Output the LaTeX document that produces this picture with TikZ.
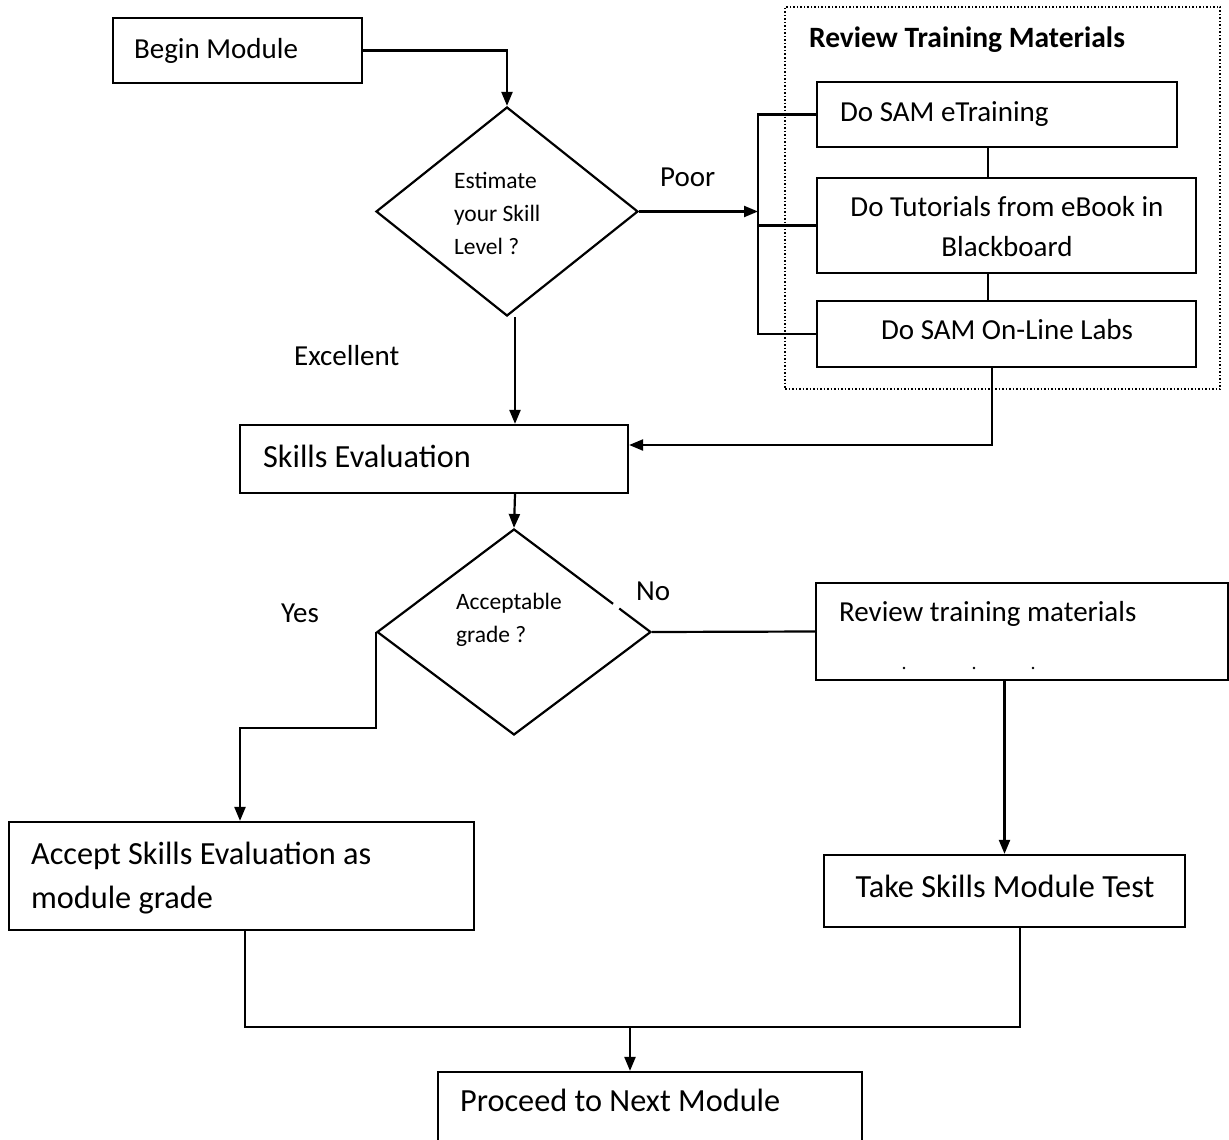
\documentclass[tikz,border=0pt]{standalone}
\usepackage{fontspec}
\setmainfont{Carlito}
\usetikzlibrary{shapes.geometric,arrows.meta}
\begin{document}
\begin{tikzpicture}[x=1pt,y=-1pt,
  line width=2.2pt,
  box/.style={draw,line width=2.2pt,rectangle,inner sep=0pt},
  dia/.style={draw,line width=2.2pt,diamond,inner sep=0pt},
  txt/.style={font=\fontsize{29}{42}\selectfont,inner sep=0pt,anchor=mid west,yshift=-7pt},
  ctxt/.style={font=\fontsize{29}{42}\selectfont,inner sep=0pt,anchor=mid,yshift=-7pt},
  btxt/.style={font=\fontsize{32.3}{44}\selectfont,inner sep=0pt,anchor=mid west,yshift=-8pt},
  bctxt/.style={font=\fontsize{32.3}{44}\selectfont,inner sep=0pt,anchor=mid,yshift=-8pt},
  dtxt/.style={font=\fontsize{23.5}{33}\selectfont,inner sep=0pt,anchor=mid west,yshift=-6pt},
  ttl/.style={font=\fontsize{29.5}{34}\selectfont\bfseries,inner sep=0pt,anchor=mid west,yshift=-7pt},
  arr/.style={-{Triangle[length=14pt,width=11pt]}}]
\useasboundingbox (0,0) rectangle (1229,1140);
\clip (0,0) rectangle (1229,1140);
\fill[white] (0,0) rectangle (1229,1140);

% group frame
\node[draw,line width=1.5pt,dotted,rectangle,inner sep=0pt,minimum width=435pt,minimum height=382pt] (grp) at (1002.5,198) {};
\node[ttl] (grpttl) at (808,38) {Review Training Materials};

% boxes
\node[box,minimum width=249pt,minimum height=65pt] (begin) at (237.5,50.5) {};
\node[txt] (begint) at (133,49) {Begin Module};

\node[dia,minimum width=262pt,minimum height=209pt] (d1) at (507,211.5) {};
\node[dtxt] (d1a) at (453,180) {Estimate};
\node[dtxt] (d1b) at (453,213) {your Skill};
\node[dtxt] (d1c) at (453,246) {Level ?};

\node[box,minimum width=360pt,minimum height=65pt] (et) at (997,114.5) {};
\node[txt] (ett) at (839,112) {Do SAM eTraining};
\node[box,minimum width=379pt,minimum height=95pt] (tut) at (1006.5,225.5) {};
\node[ctxt] (tuta) at (1007,207) {Do Tutorials from eBook in};
\node[ctxt] (tutb) at (1007,247) {Blackboard};
\node[box,minimum width=379pt,minimum height=66pt] (labs) at (1006.5,334) {};
\node[ctxt] (labst) at (1007,330) {Do SAM On-Line Labs};

\node[box,minimum width=388pt,minimum height=68pt] (skills) at (434,459) {};
\node[btxt] (skillst) at (262,457) {Skills Evaluation};

\node[dia,minimum width=274pt,minimum height=206pt] (d2) at (514,632) {};
\node[dtxt] (d2a) at (455,601) {Acceptable};
\node[dtxt] (d2b) at (455,634) {grade ?};
\draw[white,line width=5pt] (613,604.1) -- (619,608.6);

\node[box,minimum width=412pt,minimum height=97pt] (rev) at (1022,631.5) {};
\node[txt] (revt) at (838,612) {Review training materials};
\fill (904,668) circle (1.4pt) (974,668) circle (1.4pt) (1033,668) circle (1.4pt);

\node[box,minimum width=361pt,minimum height=72pt] (take) at (1004.5,891) {};
\node[bctxt] (taket) at (1005,887) {Take Skills Module Test};

\node[box,minimum width=465pt,minimum height=108pt] (acc) at (241.5,876) {};
\node[btxt] (acca) at (30,854) {Accept Skills Evaluation as};
\node[btxt] (accb) at (30,898) {module grade};

\node[box,minimum width=424pt,minimum height=80pt] (proc) at (650,1112) {};
\node[btxt] (proct) at (459,1101) {Proceed to Next Module};

% labels
\node[txt] (poor) at (659,177) {Poor};
\node[txt] (exc) at (293,356) {Excellent};
\node[txt] (yes) at (280,613) {Yes};
\node[txt] (no) at (635,591) {No};

% helper coordinates
\coordinate (brx) at (758,0);
\coordinate (c515) at (515,0);
\coordinate (jn) at (630,1027);

% connectors
\draw[arr] (begin.east) -| (d1.north);
\draw[arr] (d1.east) -- (brx |- d1.east);
\draw (et.west) -| (brx |- labs.west) -- (labs.west);
\draw (brx |- tut.west) -- (tut.west);
\draw ([xshift=-9pt]et.south) -- ([xshift=-18.5pt]tut.north);
\draw ([xshift=-18.5pt]tut.south) -- ([xshift=-18.5pt]labs.north);
\draw[arr] ([xshift=-14.5pt]labs.south) |- ([yshift=14pt]skills.east);
\draw[arr] (c515 |- d1.south) -- (c515 |- skills.north);
\draw[arr] (c515 |- skills.south) -- (d2.north);
\draw[arr] (d2.west) -- ++(0,96) -| ([xshift=-1.5pt]acc.north);
\draw (d2.east) -- (rev.west);
\draw[arr] (take.north |- rev.south) -- (take.north);
\draw ([xshift=3.5pt]acc.south) |- (jn) -| ([xshift=15.5pt]take.south);
\draw[arr] (jn) -- (jn |- proc.north);
\end{tikzpicture}
\end{document}
